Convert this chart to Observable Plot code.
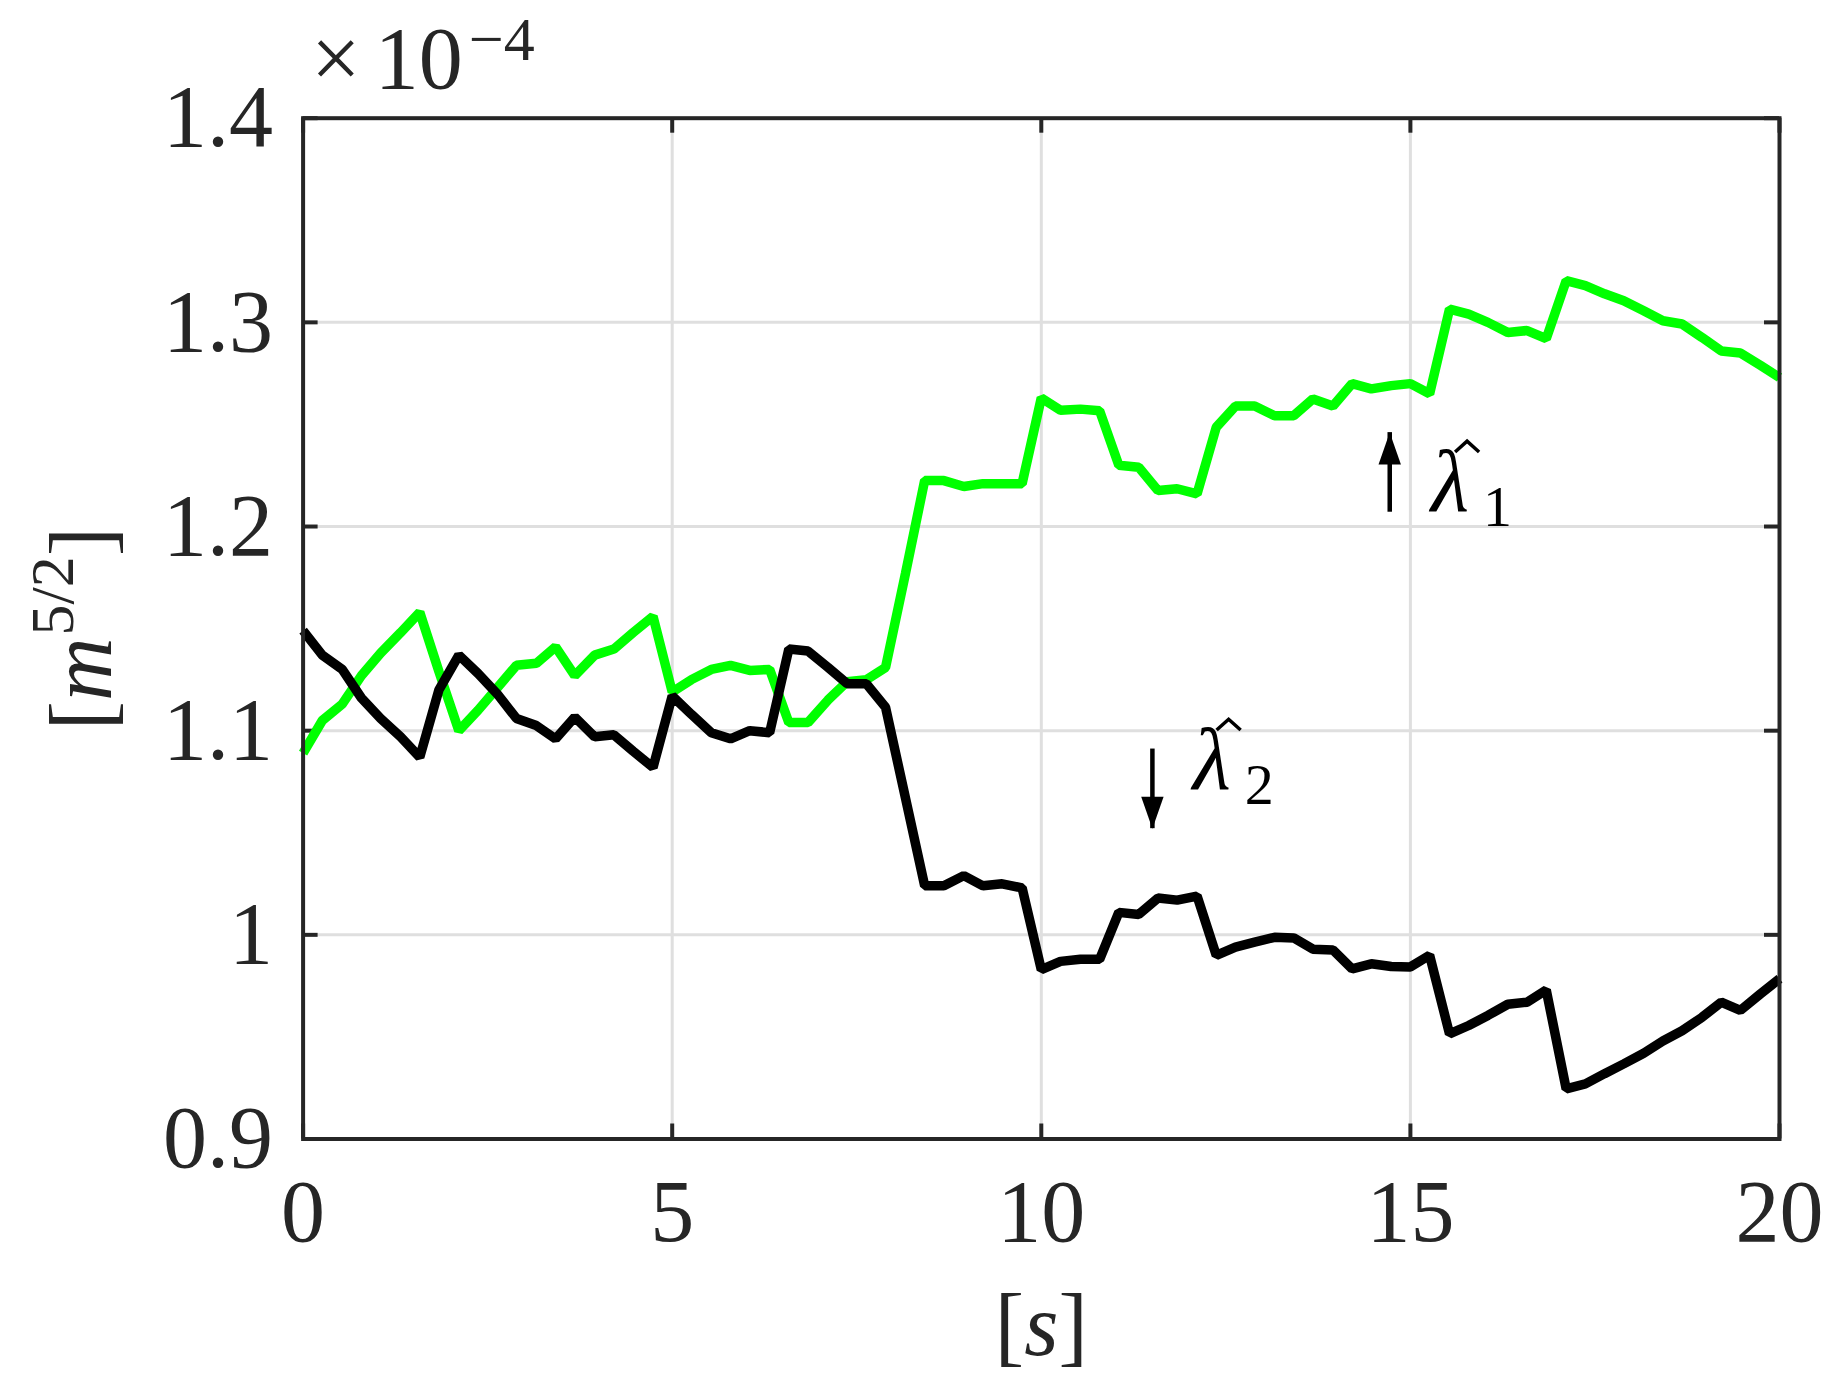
<!DOCTYPE html>
<html>
<head>
<meta charset="utf-8">
<script src="https://cdn.jsdelivr.net/npm/d3@7"></script>
<script src="https://cdn.jsdelivr.net/npm/@observablehq/plot@0.6"></script>
<style>
  html, body { margin: 0; padding: 0; background: #fff; }
  #chart { width: 1846px; height: 1393px; }
</style>
</head>
<body>
<div id="chart"></div>
<script>
// ---- data (values in units of 1e-4 m^{5/2}) ----
const times = [0.00, 0.26, 0.53, 0.79, 1.05, 1.32, 1.58, 1.84, 2.11, 2.37, 2.63, 2.89, 3.16, 3.42, 3.68, 3.95,
  4.21, 4.47, 4.74, 5.00, 5.26, 5.53, 5.79, 6.05, 6.32, 6.58, 6.84, 7.11, 7.37, 7.63, 7.89, 8.16, 8.42, 8.68,
  8.95, 9.21, 9.47, 9.74, 10.00, 10.26, 10.53, 10.79, 11.05, 11.32, 11.58, 11.84, 12.11, 12.37, 12.63, 12.89,
  13.16, 13.42, 13.68, 13.95, 14.21, 14.47, 14.74, 15.00, 15.26, 15.53, 15.79, 16.05, 16.32, 16.58, 16.84,
  17.11, 17.37, 17.63, 17.89, 18.16, 18.42, 18.68, 18.95, 19.21, 19.47, 19.74, 20.00];

const lambda1 = [1.089, 1.105, 1.113, 1.127, 1.138, 1.148, 1.158, 1.129, 1.100, 1.110, 1.121, 1.132, 1.133, 1.141,
  1.127, 1.137, 1.140, 1.148, 1.156, 1.119, 1.125, 1.130, 1.132, 1.1295, 1.130, 1.104, 1.104, 1.115, 1.124, 1.125,
  1.131, 1.177, 1.2225, 1.2225, 1.2196, 1.221, 1.221, 1.221, 1.263, 1.257, 1.2575, 1.2567, 1.230, 1.229, 1.2176,
  1.2185, 1.216, 1.2486, 1.259, 1.259, 1.2543, 1.2543, 1.2625, 1.259, 1.270, 1.2674, 1.269, 1.270, 1.265, 1.3065,
  1.304, 1.300, 1.295, 1.296, 1.292, 1.3204, 1.318, 1.314, 1.3106, 1.3057, 1.3008, 1.2992, 1.2926, 1.286, 1.285,
  1.279, 1.273];

const lambda2 = [1.149, 1.137, 1.130, 1.116, 1.106, 1.097, 1.087, 1.120, 1.137, 1.128, 1.118, 1.106, 1.1025, 1.096,
  1.1066, 1.097, 1.098, 1.090, 1.082, 1.117, 1.108, 1.099, 1.096, 1.100, 1.099, 1.140, 1.139, 1.131, 1.123, 1.123,
  1.1115, 1.067, 1.024, 1.024, 1.029, 1.024, 1.025, 1.023, 0.983, 0.987, 0.988, 0.988, 1.011, 1.010, 1.018, 1.017,
  1.019, 0.990, 0.994, 0.9964, 0.9988, 0.9985, 0.993, 0.9926, 0.9833, 0.9858, 0.9845, 0.9843, 0.990, 0.9515,
  0.9556, 0.9605, 0.966, 0.967, 0.973, 0.9246, 0.927, 0.932, 0.9368, 0.942, 0.948, 0.953, 0.9596, 0.967, 0.963,
  0.971, 0.9785];

const xTicks = [0, 5, 10, 15, 20];
const yTicks = [0.9, 1, 1.1, 1.2, 1.3, 1.4];
const xDomain = [0, 20];
const yDomain = [0.9, 1.4];

const arrowsUp = [{x: 14.72, from: 1.207, to: 1.246}];
const arrowsDown = [{x: 11.505, from: 1.091, to: 1.052}];
const labels = [{x: 15.28, y: 1.2078, sub: "1"}, {x: 12.05, y: 1.0716, sub: "2"}];
const exponentText = "×10−4";
const xLabelText = "[s]";
const yLabelText = "[m5/2]";

// ---- layout ----
const W = 1846, H = 1393;
const mL = 302.6, mR = 67, mT = 117.7, mB = 254.5;
const innerW = W - mL - mR, innerH = H - mT - mB;
const tickPx = 15;
const tickLenX = tickPx * (xDomain[1] - xDomain[0]) / innerW;
const tickLenY = tickPx * (yDomain[1] - yDomain[0]) / innerH;

const axisColor = "#262626";
const gridColor = "#dfdfdf";
const font = "'Liberation Serif', 'DejaVu Serif', serif";

const rows1 = times.map((t, i) => ({t, v: lambda1[i]}));
const rows2 = times.map((t, i) => ({t, v: lambda2[i]}));

// arrow head symbols (tip at origin) and hat accent
const headUp = {draw(ctx, size) { const s = Math.sqrt(size / Math.PI); ctx.moveTo(0, 0); ctx.lineTo(0.7 * s, 2 * s); ctx.lineTo(-0.7 * s, 2 * s); ctx.closePath(); }};
const headDown = {draw(ctx, size) { const s = Math.sqrt(size / Math.PI); ctx.moveTo(0, 0); ctx.lineTo(0.7 * s, -2 * s); ctx.lineTo(-0.7 * s, -2 * s); ctx.closePath(); }};
const hat = {draw(ctx, size) { const s = Math.sqrt(size / Math.PI); ctx.moveTo(-s, 0.45 * s); ctx.lineTo(0, -0.45 * s); ctx.lineTo(s, 0.45 * s); }};

const fmt = d => String(d);

const plot = Plot.plot({
  width: W, height: H,
  marginLeft: mL, marginRight: mR, marginTop: mT, marginBottom: mB,
  x: {domain: xDomain},
  y: {domain: yDomain},
  style: {fontFamily: font, fontSize: "88px", color: axisColor, background: "#fff", overflow: "visible"},
  marks: [
    Plot.gridX(xTicks, {stroke: gridColor, strokeOpacity: 1, strokeWidth: 3}),
    Plot.gridY(yTicks, {stroke: gridColor, strokeOpacity: 1, strokeWidth: 3}),
    Plot.axisX(xTicks, {label: null, tickSize: 0, tickPadding: 40, tickFormat: fmt, fontSize: 88}),
    Plot.axisY(yTicks, {label: null, tickSize: 0, tickPadding: 30, tickFormat: fmt, fontSize: 88}),
    // inward ticks on all four sides
    Plot.ruleX(xTicks, {x: d => d, y1: yDomain[0], y2: yDomain[0] + tickLenY, stroke: axisColor, strokeWidth: 4}),
    Plot.ruleX(xTicks, {x: d => d, y1: yDomain[1] - tickLenY, y2: yDomain[1], stroke: axisColor, strokeWidth: 4}),
    Plot.ruleY(yTicks, {y: d => d, x1: xDomain[0], x2: xDomain[0] + tickLenX, stroke: axisColor, strokeWidth: 4}),
    Plot.ruleY(yTicks, {y: d => d, x1: xDomain[1] - tickLenX, x2: xDomain[1], stroke: axisColor, strokeWidth: 4}),
    Plot.line(rows1, {x: "t", y: "v", stroke: "#00ff00", strokeWidth: 9.5, strokeLinejoin: "miter", strokeLinecap: "butt"}),
    Plot.line(rows2, {x: "t", y: "v", stroke: "#000000", strokeWidth: 9.5, strokeLinejoin: "miter", strokeLinecap: "butt"}),
    Plot.frame({stroke: axisColor, strokeWidth: 4}),
    // annotation arrows
    Plot.ruleX(arrowsUp, {x: "x", y1: "from", y2: "to", stroke: "#000", strokeWidth: 4.5}),
    Plot.ruleX(arrowsDown, {x: "x", y1: "from", y2: "to", stroke: "#000", strokeWidth: 4.5}),
    Plot.dot(arrowsUp, {x: "x", y: "to", symbol: headUp, r: 16, fill: "#000", stroke: "none"}),
    Plot.dot(arrowsDown, {x: "x", y: "to", symbol: headDown, r: 16, fill: "#000", stroke: "none"}),
    // lambda-hat labels
    Plot.text(labels, {x: "x", y: "y", text: () => "λ", fontSize: 88, fontStyle: "italic", textAnchor: "start", lineAnchor: "bottom", fill: "#000"}),
    Plot.dot(labels, {x: "x", y: "y", symbol: hat, r: 12, fill: "none", stroke: "#000", strokeWidth: 3.5, dx: 36, dy: -64}),
    Plot.text(labels, {x: "x", y: "y", text: "sub", fontSize: 58, textAnchor: "start", lineAnchor: "bottom", dx: 52, dy: 15, fill: "#000"}),
    // exponent, axis labels
    Plot.text([exponentText], {frameAnchor: "top-left", text: d => d, textAnchor: "start", lineAnchor: "bottom", dx: 8, dy: -30, fontSize: 88, fill: axisColor}),
    Plot.text([xLabelText], {frameAnchor: "bottom", text: d => d, textAnchor: "middle", lineAnchor: "bottom", dy: 216, fontSize: 88, fill: axisColor}),
    Plot.text([yLabelText], {frameAnchor: "left", text: d => d, textAnchor: "middle", lineAnchor: "bottom", rotate: -90, dx: -192, fontSize: 88, fill: axisColor})
  ]
});

// rich text (italic, super/subscripts) via tspans
function rich(svg, content, parts) {
  d3.select(svg).selectAll("text").filter(function () { return this.textContent === content; }).each(function () {
    const t = d3.select(this);
    t.text(null);
    for (const p of parts) {
      const s = t.append("tspan").text(p.t);
      for (const k in (p.attr || {})) s.attr(k, p.attr[k]);
    }
  });
}
rich(plot, exponentText, [
  {t: "×"},
  {t: "10", attr: {dx: 14}},
  {t: "−4", attr: {dx: 6, dy: -28, "font-size": 62}}
]);
rich(plot, xLabelText, [
  {t: "["},
  {t: "s", attr: {"font-style": "italic"}},
  {t: "]"}
]);
rich(plot, yLabelText, [
  {t: "["},
  {t: "m", attr: {"font-style": "italic"}},
  {t: "5/2", attr: {dy: -38, "font-size": 62, dx: 2}},
  {t: "]", attr: {dy: 38}}
]);

document.getElementById("chart").append(plot);
</script>
</body>
</html>
